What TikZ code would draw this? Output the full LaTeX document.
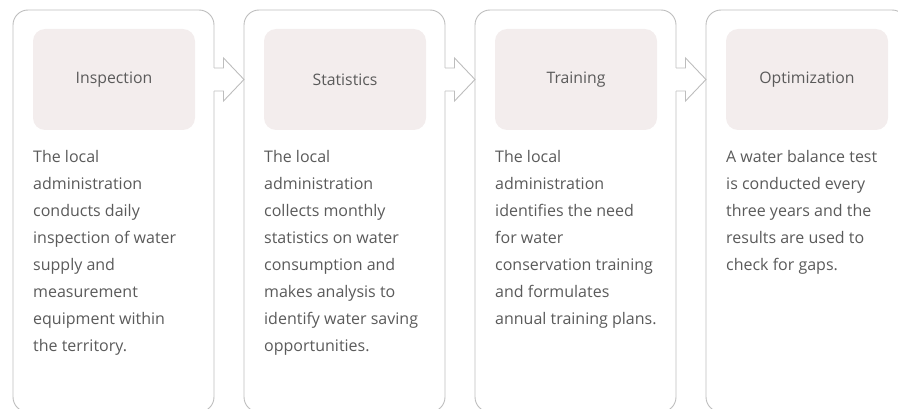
\documentclass[tikz,border=0pt]{standalone}
\usepackage{xcolor}
\usepackage{fontspec}
\setmainfont{Open Sans}
\usepackage{tikz}
\usetikzlibrary{positioning, calc}

\definecolor{edgegray}{HTML}{BDBDBD}
\definecolor{titlefill}{HTML}{F3EDED}
\definecolor{inkgray}{HTML}{5A5A5A}

\begin{document}
\begin{tikzpicture}[
			x=1pt, y=1pt,
			node distance=30pt,
			stage/.style={draw=edgegray, line width=0.9pt, rectangle, rounded corners=15pt, minimum width=201pt, minimum height=402pt, outer sep=0pt, inner sep=0pt},
			head/.style={rectangle, rounded corners=12pt, fill=titlefill, minimum width=162pt, minimum height=101pt, outer sep=0pt, text=inkgray, font=\fontsize{15.8}{18}\selectfont},
			body/.style={anchor=north west, align=left, inner sep=0pt, text=inkgray, font=\fontsize{16}{27}\selectfont},
			chev/.style={draw=edgegray, line width=0.9pt, line join=miter}
		]
		\useasboundingbox (0,0) rectangle (898,408);
		\clip (0,0) rectangle (898,408);

		% Outer stages
		\node[stage, anchor=north west] (inspect) at (13,398) {};
		\node[stage, right=of inspect] (stats) {};
		\node[stage, right=of stats] (train) {};
		\node[stage, right=of train] (optim) {};

		% Titles
		\node[head, anchor=north west] (inspectT) at ([xshift=20pt, yshift=-19pt]inspect.north west) {Inspection};
		\node[head, anchor=north west] (statsT) at ([xshift=20pt, yshift=-19pt]stats.north west) {Statistics};
		\node[head, anchor=north west] (trainT) at ([xshift=20pt, yshift=-19pt]train.north west) {Training};
		\node[head, anchor=north west] (optimT) at ([xshift=20pt, yshift=-19pt]optim.north west) {Optimization};

		% Descriptions
		\node[body] (inspectB) at ([yshift=-20pt]inspectT.south west) {The local\\administration\\conducts daily\\inspection of water\\supply and\\measurement\\equipment within\\the territory.};
		\node[body] (statsB) at ([yshift=-20pt]statsT.south west) {The local\\administration\\collects monthly\\statistics on water\\consumption and\\makes analysis to\\identify water saving\\opportunities.};
		\node[body] (trainB) at ([yshift=-20pt]trainT.south west) {The local\\administration\\identifies the need\\for water\\conservation training\\and formulates\\annual training plans.};
		\node[body] (optimB) at ([yshift=-20pt]optimT.south west) {A water balance test\\is conducted every\\three years and the\\results are used to\\check for gaps.};

		% Arrows between stages
		\coordinate (a1) at (inspect.east |- inspectT.center);
		\coordinate (a2) at (stats.east |- statsT.center);
		\coordinate (a3) at (train.east |- trainT.center);
		\fill[white] ($(a1)+(-1,11.5)$) rectangle ($(a1)+(1,-11.5)$);
		\draw[chev] ($(a1)+(0,11.5)$) -- ++(9.5,0) -- ++(0,10) -- (stats.west |- statsT.center) -- ($(a1)+(9.5,-21.5)$) -- ++(0,10) -- ++(-9.5,0);
		\fill[white] ($(a2)+(-1,11.5)$) rectangle ($(a2)+(1,-11.5)$);
		\draw[chev] ($(a2)+(0,11.5)$) -- ++(9.5,0) -- ++(0,10) -- (train.west |- trainT.center) -- ($(a2)+(9.5,-21.5)$) -- ++(0,10) -- ++(-9.5,0);
		\fill[white] ($(a3)+(-1,11.5)$) rectangle ($(a3)+(1,-11.5)$);
		\draw[chev] ($(a3)+(0,11.5)$) -- ++(9.5,0) -- ++(0,10) -- (optim.west |- optimT.center) -- ($(a3)+(9.5,-21.5)$) -- ++(0,10) -- ++(-9.5,0);

		\end{tikzpicture}
\end{document}
